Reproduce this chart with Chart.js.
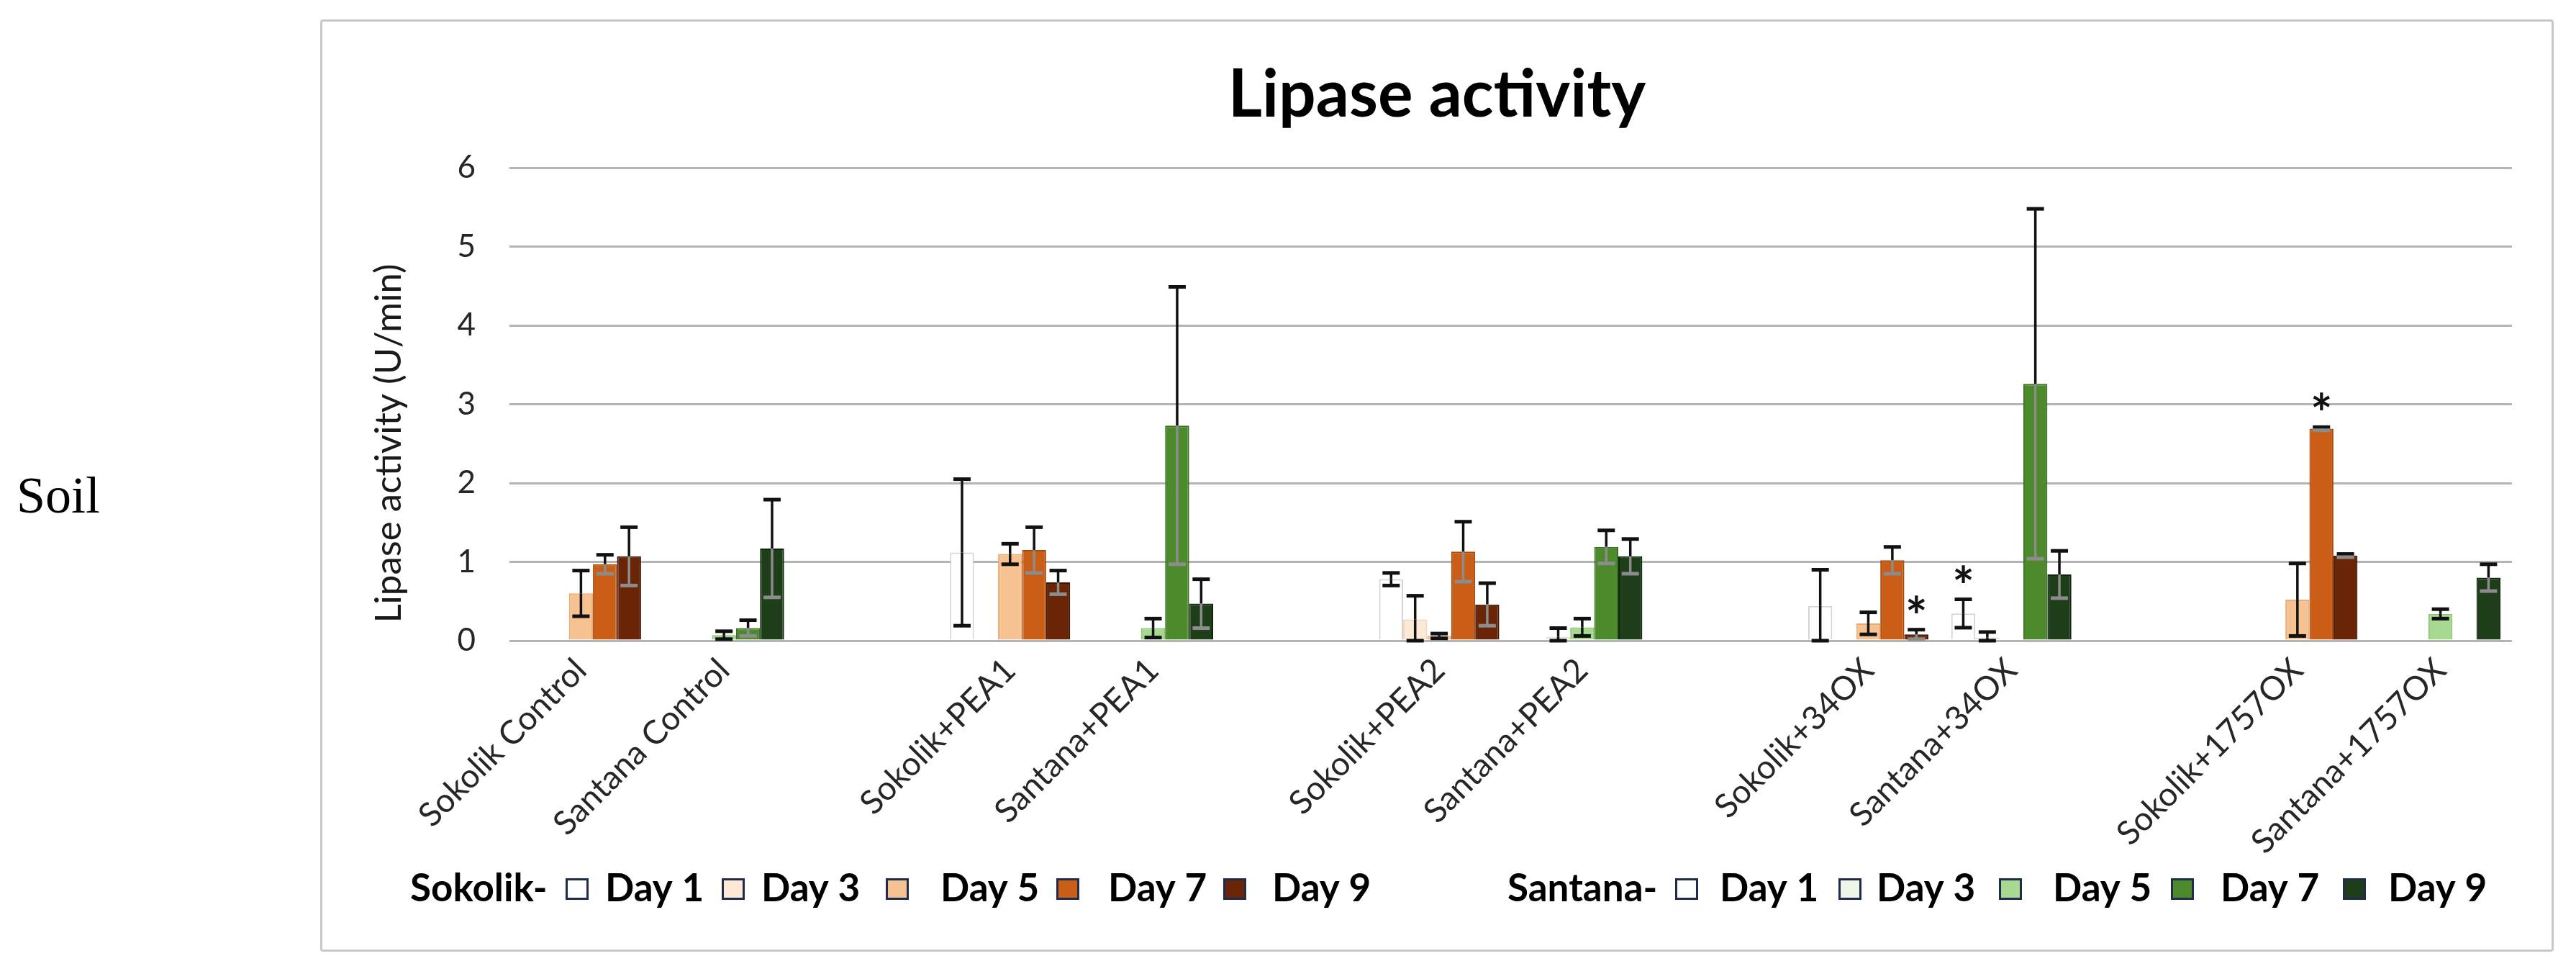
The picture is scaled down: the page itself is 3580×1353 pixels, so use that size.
<!DOCTYPE html>
<html>
<head>
<meta charset="utf-8">
<script src="https://cdn.jsdelivr.net/npm/chart.js@4.4.1/dist/chart.umd.min.js"></script>
<style>
  html, body { margin:0; padding:0; background:#ffffff; width:3580px; height:1353px; overflow:hidden; }
  #soil { position:absolute; left:23px; top:652px; font-family:"Liberation Serif", "DejaVu Serif", serif; font-size:72px; line-height:72px; color:#000; }
  #box { position:absolute; left:445px; top:27px; width:3098px; height:1289px; border:3px solid #c8c8c8; border-radius:4px; background:#fff; }
  canvas { display:block; }
</style>
</head>
<body>
<div id="soil">Soil</div>
<div id="box"><canvas id="c" width="3098" height="1289" style="width:3098px;height:1289px"></canvas></div>
<script>
// ---------------- DATA ----------------
const categories = ['Sokolik Control', 'Santana Control', '',
                    'Sokolik+PEA1', 'Santana+PEA1', '',
                    'Sokolik+PEA2', 'Santana+PEA2', '',
                    'Sokolik+34OX', 'Santana+34OX', '',
                    'Sokolik+1757OX', 'Santana+1757OX'];
const sokolikCategoryIndex = [0, 3, 6, 9, 12];
const santanaCategoryIndex = [1, 4, 7, 10, 13];
const dayLabels = ['Day 1', 'Day 3', 'Day 5', 'Day 7', 'Day 9'];
const groupLabels = ['Sokolik-', 'Santana-'];
const yTicks = [0, 1, 2, 3, 4, 5, 6];
const chartTitle = 'Lipase activity';
const yAxisTitle = 'Lipase activity (U/min)';

// Sokolik means (order: Control, PEA1, PEA2, 34OX, 1757OX)
const sokolikDay1 = [0,    1.12, 0.78, 0.44, 0];
const sokolikDay3 = [0,    0,    0.27, 0,    0];
const sokolikDay5 = [0.60, 1.10, 0.06, 0.22, 0.52];
const sokolikDay7 = [0.97, 1.15, 1.13, 1.02, 2.69];
const sokolikDay9 = [1.07, 0.74, 0.46, 0.08, 1.08];
// Sokolik error (+/-)
const sokolikErr1 = [0,    0.93, 0.08, 0.46, 0];
const sokolikErr3 = [0,    0,    0.30, 0,    0];
const sokolikErr5 = [0.29, 0.13, 0.03, 0.14, 0.46];
const sokolikErr7 = [0.12, 0.29, 0.38, 0.17, 0.02];
const sokolikErr9 = [0.37, 0.15, 0.27, 0.06, 0.02];

// Santana means (order: Control, PEA1, PEA2, 34OX, 1757OX)
const santanaDay1 = [0,    0,    0,    0.345, 0];
const santanaDay3 = [0,    0,    0.05, 0.04, 0];
const santanaDay5 = [0.07, 0.16, 0.17, 0,    0.34];
const santanaDay7 = [0.16, 2.73, 1.19, 3.26, 0];
const santanaDay9 = [1.17, 0.47, 1.07, 0.84, 0.80];
// Santana error (+/-)
const santanaErr1 = [0,    0,    0,    0.18, 0];
const santanaErr3 = [0,    0,    0.11, 0.07, 0];
const santanaErr5 = [0.05, 0.12, 0.11, 0,    0.06];
const santanaErr7 = [0.10, 1.76, 0.21, 2.22, 0];
const santanaErr9 = [0.62, 0.31, 0.22, 0.30, 0.17];

// significance markers: category index + dataset index (0-4 Sokolik days, 5-9 Santana days)
const starCategories = [9, 10, 12];
const starDatasets   = [4, 5, 3];

// ---------------- STYLE ----------------
const sokolikColors  = ['#ffffff', '#fde9d6', '#f7c291', '#cb5e16', '#6a2507'];
const sokolikBorders = ['#d4d4d4', '#f0d6bd', '#e9ad77', '#a84a0c', '#3e1504'];
const santanaColors  = ['#ffffff', '#eef7e7', '#a8d990', '#4c8a2c', '#1e3e1a'];
const santanaBorders = ['#d4d4d4', '#d9e9cf', '#8cc572', '#3a6f20', '#0f250d'];
const FONT = 'Lato, "Open Sans", "DejaVu Sans", sans-serif';

function spread(values, idx) {
  const out = categories.map(() => null);
  idx.forEach((c, k) => { out[c] = values[k]; });
  return out;
}

const sokolikSeries = [sokolikDay1, sokolikDay3, sokolikDay5, sokolikDay7, sokolikDay9];
const sokolikErrors = [sokolikErr1, sokolikErr3, sokolikErr5, sokolikErr7, sokolikErr9];
const santanaSeries = [santanaDay1, santanaDay3, santanaDay5, santanaDay7, santanaDay9];
const santanaErrors = [santanaErr1, santanaErr3, santanaErr5, santanaErr7, santanaErr9];

const datasets = [];
const errorData = [];
sokolikSeries.forEach((vals, k) => {
  datasets.push({ label: 'Sokolik ' + dayLabels[k], data: spread(vals, sokolikCategoryIndex),
    backgroundColor: sokolikColors[k], borderColor: sokolikBorders[k], borderWidth: 2, stack: 'd' + k });
  errorData.push(spread(sokolikErrors[k], sokolikCategoryIndex));
});
santanaSeries.forEach((vals, k) => {
  datasets.push({ label: 'Santana ' + dayLabels[k], data: spread(vals, santanaCategoryIndex),
    backgroundColor: santanaColors[k], borderColor: santanaBorders[k], borderWidth: 2, stack: 'd' + k });
  errorData.push(spread(santanaErrors[k], santanaCategoryIndex));
});

function isDark(hex) {
  const r = parseInt(hex.substr(1,2),16), g = parseInt(hex.substr(3,2),16), b = parseInt(hex.substr(5,2),16);
  return (0.299*r + 0.587*g + 0.114*b) < 150;
}

// ---------------- PLUGINS ----------------
const errorBarPlugin = {
  id: 'errorBars',
  afterDatasetsDraw(chart) {
    const ctx = chart.ctx, ys = chart.scales.y, area = chart.chartArea;
    ctx.save();
    chart.data.datasets.forEach((ds, di) => {
      const meta = chart.getDatasetMeta(di);
      meta.data.forEach((bar, j) => {
        const v = ds.data[j], e = errorData[di][j];
        if (v == null || !e) return;
        const x = bar.x;
        const yTop = ys.getPixelForValue(v);
        const yHi = ys.getPixelForValue(v + e);
        const yLo = Math.min(ys.getPixelForValue(v - e), area.bottom);
        const inner = isDark(ds.backgroundColor) ? '#8c8c8c' : '#111111';
        const cap = 12;
        ctx.lineCap = 'butt';
        ctx.strokeStyle = '#111111';
        ctx.lineWidth = 3.5;
        ctx.beginPath(); ctx.moveTo(x, yTop); ctx.lineTo(x, yHi); ctx.stroke();
        ctx.lineWidth = 5;
        ctx.beginPath(); ctx.moveTo(x - cap, yHi); ctx.lineTo(x + cap, yHi); ctx.stroke();
        ctx.strokeStyle = inner;
        ctx.lineWidth = 3.5;
        ctx.beginPath(); ctx.moveTo(x, yTop); ctx.lineTo(x, yLo); ctx.stroke();
        ctx.lineWidth = 5;
        ctx.beginPath(); ctx.moveTo(x - cap, yLo); ctx.lineTo(x + cap, yLo); ctx.stroke();
      });
    });
    ctx.fillStyle = '#111111';
    ctx.font = 'bold 72px ' + FONT;
    ctx.textAlign = 'center';
    ctx.textBaseline = 'alphabetic';
    starCategories.forEach((c, k) => {
      const di = starDatasets[k];
      const bar = chart.getDatasetMeta(di).data[c];
      const v = chart.data.datasets[di].data[c] + (errorData[di][c] || 0);
      const yc = ys.getPixelForValue(v) - 30;
      ctx.fillText('*', bar.x, yc + 38);
    });
    ctx.restore();
  }
};

const yTitlePlugin = {
  id: 'yTitle',
  afterDraw(chart) {
    const ctx = chart.ctx;
    ctx.save();
    ctx.translate(93, 586);
    ctx.rotate(-Math.PI / 2);
    ctx.font = '51px ' + FONT;
    ctx.fillStyle = '#1a1a1a';
    ctx.textAlign = 'center';
    ctx.textBaseline = 'middle';
    ctx.fillText(yAxisTitle, 0, 0);
    ctx.restore();
  }
};

const legendLayout = [
  { label: 0, x: 122, boxes: [338, 555, 783, 1020, 1252], texts: [393, 610, 859, 1092, 1320], colors: sokolikColors },
  { label: 1, x: 1647, boxes: [1880, 2107, 2330, 2569, 2808], texts: [1942, 2160, 2405, 2638, 2871], colors: santanaColors }
];
const customLegendPlugin = {
  id: 'customLegend',
  afterDraw(chart) {
    const ctx = chart.ctx;
    const baseline = 1222, boxTop = 1190, boxW = 32, boxH = 30;
    ctx.save();
    ctx.font = 'bold 53px ' + FONT;
    ctx.textAlign = 'left';
    ctx.textBaseline = 'alphabetic';
    legendLayout.forEach(g => {
      ctx.fillStyle = '#000';
      ctx.fillText(groupLabels[g.label], g.x, baseline);
      g.boxes.forEach((bx, k) => {
        ctx.fillStyle = g.colors[k];
        ctx.fillRect(bx, boxTop, boxW, boxH);
        ctx.strokeStyle = '#1f2c4c';
        ctx.lineWidth = 3;
        ctx.strokeRect(bx + 1.5, boxTop + 1.5, boxW - 3, boxH - 3);
        ctx.fillStyle = '#000';
        ctx.fillText(dayLabels[k], g.texts[k], baseline);
      });
    });
    ctx.restore();
  }
};

// ---------------- CHART ----------------
function build() {
  new Chart(document.getElementById('c'), {
    type: 'bar',
    data: { labels: categories, datasets: datasets },
    options: {
      responsive: false,
      animation: false,
      devicePixelRatio: 1,
      layout: { padding: { left: 0, right: 0, top: 0, bottom: 109 } },
      datasets: { bar: { categoryPercentage: 0.84, barPercentage: 1.0 } },
      plugins: {
        legend: { display: false },
        tooltip: { enabled: false },
        title: {
          display: true, text: chartTitle, color: '#000',
          font: { family: FONT, size: 91, weight: 'bold', lineHeight: 1.2 },
          padding: { top: 48, bottom: 46 }
        }
      },
      scales: {
        x: {
          stacked: true,
          grid: { display: false, drawTicks: false },
          border: { display: false },
          ticks: { autoSkip: false, minRotation: 45, maxRotation: 45, padding: 14,
                   color: '#262626', font: { family: FONT, size: 46 } },
          afterFit: s => { s.height = 320; }
        },
        y: {
          stacked: true,
          min: 0, max: 6,
          afterBuildTicks: s => { s.ticks = yTicks.map(v => ({ value: v })); },
          ticks: { stepSize: 1, padding: 47, color: '#262626', font: { family: FONT, size: 44 } },
          grid: { color: '#b4b4b4', lineWidth: 3, drawTicks: false },
          border: { display: false },
          afterFit: s => { s.width = 260; }
        },
        rightSpace: {
          type: 'linear', position: 'right', display: true,
          grid: { display: false, drawTicks: false },
          border: { display: false },
          ticks: { display: false },
          afterFit: s => { s.width = 55; }
        }
      }
    },
    plugins: [errorBarPlugin, yTitlePlugin, customLegendPlugin]
  });
}
if (document.fonts && document.fonts.load) {
  Promise.all([
    document.fonts.load('bold 85px Lato'), document.fonts.load('42px Lato')
  ]).then(build, build);
} else { build(); }
</script>
</body>
</html>
